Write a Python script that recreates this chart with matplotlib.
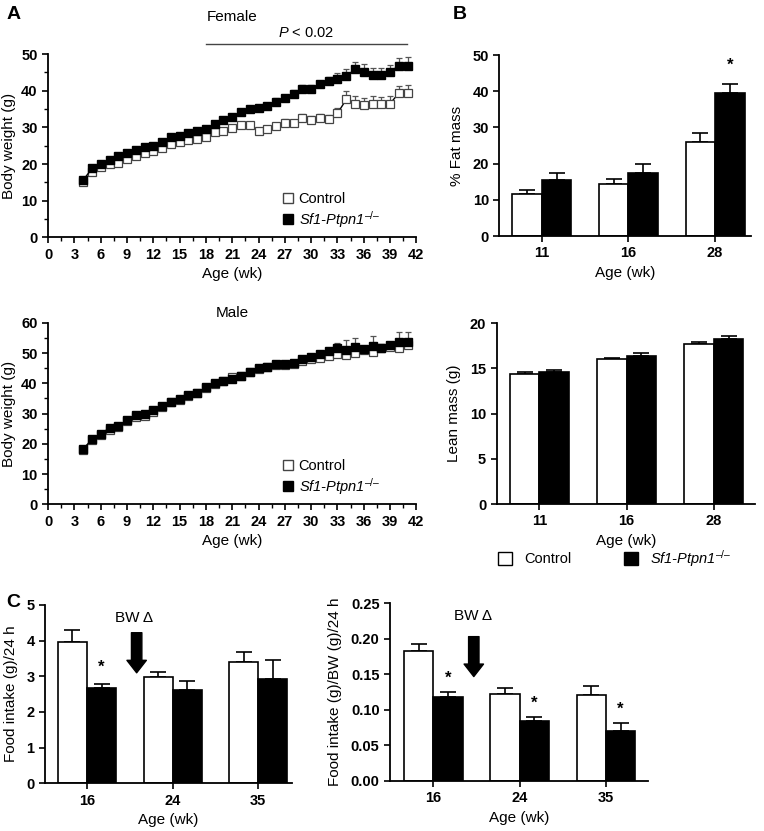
import matplotlib
matplotlib.use('Agg')
import matplotlib.pyplot as plt
import numpy as np
from matplotlib.patches import Patch
from matplotlib.lines import Line2D

plt.rcParams['font.family'] = ['Liberation Sans', 'DejaVu Sans']
plt.rcParams['mathtext.fontset'] = 'custom'
plt.rcParams['mathtext.rm'] = 'Liberation Sans'
plt.rcParams['mathtext.it'] = 'Liberation Sans:italic'

# ---- data ----
weeks = list(range(4, 42))
fem_ctrl = [15.2, 17.9, 19.3, 20.0, 20.4, 21.3, 22.2, 22.9, 23.5, 24.3,
            25.5, 26.1, 26.5, 26.7, 27.5, 28.6, 29.0, 29.7, 30.6, 30.6,
            29.0, 29.5, 30.4, 31.3, 31.1, 32.5, 32.0, 32.6, 32.3, 33.8,
            37.6, 36.5, 36.1, 36.5, 36.3, 36.5, 39.3, 39.5]
fem_ctrl_se = [0.6, 0.6, 0.6, 0.6, 0.6, 0.6, 0.6, 0.6, 0.6, 0.6,
               0.6, 0.6, 0.6, 0.6, 0.7, 0.7, 0.7, 0.7, 0.8, 0.8,
               0.8, 0.8, 0.9, 0.9, 1.0, 1.2, 1.1, 1.0, 1.0, 1.5,
               2.2, 2.0, 2.0, 2.0, 2.0, 2.0, 1.9, 2.0]
fem_ko = [15.6, 18.8, 20.0, 21.1, 22.2, 23.1, 23.8, 24.7, 24.9, 26.1,
          27.5, 27.6, 28.5, 29.0, 29.5, 30.9, 32.0, 32.9, 34.1, 35.0,
          35.2, 35.8, 37.0, 37.9, 39.1, 40.5, 40.5, 41.7, 42.7, 43.3,
          44.0, 45.8, 45.2, 44.3, 44.3, 45.2, 46.8, 46.8]
fem_ko_se = [0.6, 0.6, 0.6, 0.6, 0.6, 0.6, 0.6, 0.6, 0.6, 0.6,
             0.7, 0.7, 0.7, 0.7, 0.7, 0.8, 0.8, 0.8, 0.8, 0.8,
             0.9, 0.9, 0.9, 1.0, 1.0, 1.1, 1.1, 1.0, 1.1, 1.4,
             2.0, 1.9, 2.0, 1.9, 1.9, 1.9, 2.2, 2.3]

male_ctrl = [18.0, 21.2, 22.8, 24.6, 25.7, 27.5, 29.0, 29.2, 30.6, 32.3,
             33.7, 34.6, 35.9, 36.7, 38.4, 39.9, 40.8, 42.0, 42.4, 43.6,
             44.6, 45.4, 46.2, 46.2, 46.4, 47.4, 48.0, 48.2, 49.0, 49.7,
             49.3, 49.9, 51.0, 50.4, 51.8, 52.1, 51.5, 52.6]
male_ctrl_se = [0.7] * 25 + [0.8, 0.9, 1.0, 1.0, 1.1, 1.2, 1.2, 1.1, 1.2, 1.1, 1.2, 1.3, 1.3]
male_ko = [18.3, 21.5, 23.2, 25.3, 26.0, 27.8, 29.4, 29.8, 31.3, 32.5,
           33.9, 34.8, 36.1, 36.9, 38.7, 40.0, 40.9, 41.4, 42.4, 43.8,
           45.2, 45.5, 46.4, 46.4, 46.6, 48.0, 48.8, 49.7, 50.8, 51.8,
           51.0, 51.9, 51.2, 52.3, 51.8, 52.6, 53.7, 53.7]
male_ko_se = [0.8] * 28 + [0.9, 1.5, 3.3, 3.2, 1.2, 3.2, 1.0, 1.2, 3.3, 3.2]

b_ages = ['11', '16', '28']
fat_ctrl = [11.5, 14.5, 25.9]
fat_ctrl_se = [1.2, 1.3, 2.5]
fat_ko = [15.4, 17.4, 39.5]
fat_ko_se = [2.0, 2.5, 2.4]
lean_ctrl = [14.4, 16.0, 17.7]
lean_ctrl_se = [0.2, 0.2, 0.2]
lean_ko = [14.6, 16.4, 18.3]
lean_ko_se = [0.27, 0.3, 0.26]

c_ages = ['16', '24', '35']
fi_ctrl = [3.97, 2.98, 3.39]
fi_ctrl_se = [0.32, 0.15, 0.28]
fi_ko = [2.66, 2.62, 2.93]
fi_ko_se = [0.13, 0.25, 0.52]
fibw_ctrl = [0.1834, 0.1229, 0.1215]
fibw_ctrl_se = [0.0094, 0.0084, 0.0125]
fibw_ko = [0.1187, 0.0840, 0.0704]
fibw_ko_se = [0.0065, 0.006, 0.0107]

ko_label = 'Sf1-Ptpn1$^{\u2013/\u2013}$'

fig = plt.figure(figsize=(7.64, 8.31), dpi=100)


def style(ax):
    for s in ['top', 'right']:
        ax.spines[s].set_visible(False)
    for s in ['left', 'bottom']:
        ax.spines[s].set_linewidth(1.3)
    ax.tick_params(direction='out', width=1.2, length=4, labelsize=10.5)
    for t in ax.get_xticklabels() + ax.get_yticklabels():
        t.set_fontweight('bold')


def line_panel(rect, ctrl, ctrl_se, ko, ko_se, ymax, title, pad):
    ax = fig.add_axes(rect)
    z = np.zeros(len(weeks))
    ax.errorbar(weeks, ctrl, yerr=[z, ctrl_se], fmt='none', ecolor='#555555',
                elinewidth=0.9, capsize=2.5, capthick=0.9, zorder=1)
    ax.errorbar(weeks, ko, yerr=[z, ko_se], fmt='none', ecolor='#555555',
                elinewidth=0.9, capsize=2.5, capthick=0.9, zorder=1)
    ax.plot(weeks, ctrl, '-s', color='black', lw=1.0, ms=5.5, mfc='white',
            mec='#444444', mew=0.9, zorder=3)
    ax.plot(weeks, ko, '-s', color='black', lw=1.0, ms=5.5, mfc='black',
            mec='black', zorder=4)
    ax.set_xlim(0, 42)
    ax.set_ylim(0, ymax)
    ax.set_xticks(range(0, 43, 3))
    ax.set_xticks(np.arange(1.5, 42, 3), minor=True)
    ax.set_yticks(range(0, ymax + 1, 10))
    ax.set_yticks(range(5, ymax, 10), minor=True)
    ax.tick_params(which='minor', length=3, width=1.0)
    ax.set_xlabel('Age (wk)', fontsize=11, labelpad=4)
    ax.set_ylabel('Body weight (g)', fontsize=11, labelpad=4)
    ax.set_title(title, fontsize=11, pad=pad)
    style(ax)
    handles = [Line2D([], [], ls='none', marker='s', ms=7, mfc='white', mec='#444444'),
               Line2D([], [], ls='none', marker='s', ms=7, mfc='black', mec='black')]
    leg = ax.legend(handles, ['Control', ko_label], loc='lower left',
                    bbox_to_anchor=(0.593, -0.03), frameon=False, fontsize=10.5,
                    handletextpad=0.1, handlelength=1.2, labelspacing=0.2)
    leg.get_texts()[1].set_fontstyle('italic')
    return ax


# ---- panel A ----
axf = line_panel([0.063, 0.7144, 0.482, 0.2206], fem_ctrl, fem_ctrl_se,
                 fem_ko, fem_ko_se, 50, 'Female', 24)
axf.plot([18, 40.9], [52.7, 52.7], color='#444444', lw=1.0, clip_on=False)
axf.text(29.4, 53.8, '$\\it{P}$ < 0.02', ha='center', va='bottom', fontsize=10.5)
axm = line_panel([0.063, 0.3931, 0.482, 0.2185], male_ctrl, male_ctrl_se,
                 male_ko, male_ko_se, 60, 'Male', 4)


def bar_panel(rect, cats, ctrl, ctrl_se, ko, ko_se, xlim, ylim, yticks, ylabel, w=0.34):
    ax = fig.add_axes(rect)
    x = np.arange(len(cats))
    ax.bar(x - w / 2, ctrl, w, color='white', edgecolor='black', lw=1.2, zorder=2)
    ax.bar(x + w / 2, ko, w, color='black', edgecolor='black', lw=1.2, zorder=2)
    ax.errorbar(x - w / 2, ctrl, yerr=[np.zeros(len(x)), ctrl_se], fmt='none',
                ecolor='black', elinewidth=1.2, capsize=6, capthick=1.2, zorder=1)
    ax.errorbar(x + w / 2, ko, yerr=[np.zeros(len(x)), ko_se], fmt='none',
                ecolor='black', elinewidth=1.2, capsize=6, capthick=1.2, zorder=1)
    ax.set_xlim(*xlim)
    ax.set_ylim(*ylim)
    ax.set_xticks(x)
    ax.set_xticklabels(cats)
    ax.set_yticks(yticks)
    ax.set_xlabel('Age (wk)', fontsize=11, labelpad=4)
    ax.set_ylabel(ylabel, fontsize=11, labelpad=6)
    style(ax)
    return ax


# ---- panel B ----
axb1 = bar_panel([0.6536, 0.716, 0.330, 0.2178], b_ages, fat_ctrl, fat_ctrl_se,
                 fat_ko, fat_ko_se, (-0.49, 2.42), (0, 50), range(0, 51, 10), '% Fat mass')
axb1.text(2 + 0.17, 45.0, '*', ha='center', va='bottom', fontsize=12, fontweight='bold')
axb2 = bar_panel([0.650, 0.3935, 0.338, 0.2175], b_ages, lean_ctrl, lean_ctrl_se,
                 lean_ko, lean_ko_se, (-0.49, 2.47), (0, 20), range(0, 21, 5), 'Lean mass (g)')
lh = [Patch(facecolor='white', edgecolor='black', lw=1.0),
      Patch(facecolor='black', edgecolor='black', lw=1.0)]
leg = axb2.legend(lh, ['Control', ko_label], loc='upper left', ncol=2,
                  bbox_to_anchor=(-0.047, -0.17), frameon=False, fontsize=10.5,
                  handlelength=1.0, handleheight=1.0, columnspacing=3.6, handletextpad=0.8)
leg.get_texts()[1].set_fontstyle('italic')

# ---- panel C ----
axc1 = bar_panel([0.0589, 0.0574, 0.3229, 0.2146], c_ages, fi_ctrl, fi_ctrl_se,
                 fi_ko, fi_ko_se, (-0.49, 2.39), (0, 5), range(0, 6), 'Food intake (g)/24 h')
axc1.text(0.17, 3.05, '*', ha='center', va='bottom', fontsize=12, fontweight='bold')
axc1.annotate('', xy=(0.58, 3.02), xytext=(0.58, 4.3),
              arrowprops=dict(arrowstyle='simple,head_length=0.9,head_width=1.4,tail_width=0.75',
                              mutation_scale=10, color='black'))
axc1.text(0.55, 4.45, 'BW \u0394', ha='center', va='bottom', fontsize=11)

axc2 = bar_panel([0.5105, 0.0602, 0.338, 0.2138], c_ages, fibw_ctrl, fibw_ctrl_se,
                 fibw_ko, fibw_ko_se, (-0.5, 2.49), (0, 0.25), np.arange(0, 0.26, 0.05),
                 'Food intake (g)/BW (g)/24 h')
axc2.set_yticklabels(['%.2f' % v for v in np.arange(0, 0.26, 0.05)])
for t in axc2.get_yticklabels():
    t.set_fontweight('bold')
for i, v in enumerate(fibw_ko):
    axc2.text(i + 0.17, v + fibw_ko_se[i] + 0.009, '*', ha='center', va='bottom',
              fontsize=12, fontweight='bold')
axc2.annotate('', xy=(0.47, 0.143), xytext=(0.47, 0.207),
              arrowprops=dict(arrowstyle='simple,head_length=0.9,head_width=1.4,tail_width=0.75',
                              mutation_scale=10, color='black'))
axc2.text(0.46, 0.222, 'BW \u0394', ha='center', va='bottom', fontsize=11)

# panel letters
fig.text(0.008, 0.983, 'A', fontsize=14, fontweight='bold', va='center')
fig.text(0.592, 0.983, 'B', fontsize=14, fontweight='bold', va='center')
fig.text(0.008, 0.2744, 'C', fontsize=14, fontweight='bold', va='center')

fig.savefig('out.png', dpi=100)
